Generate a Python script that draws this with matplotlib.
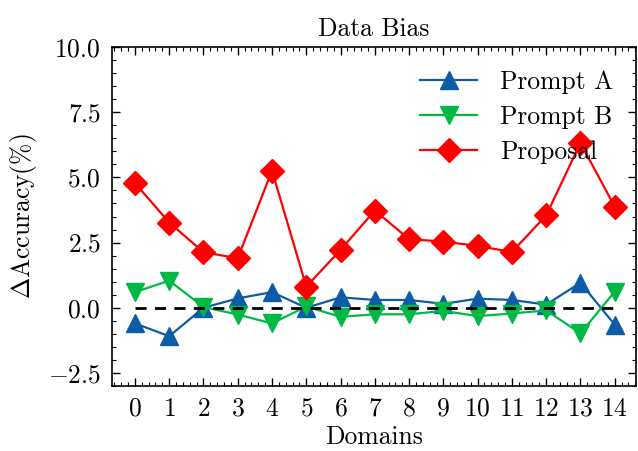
import numpy as np
import matplotlib
matplotlib.use('Agg')
import matplotlib.pyplot as plt
from matplotlib.ticker import AutoMinorLocator

# Data
domains = np.arange(15)
prompt_a = [-0.6, -1.09, 0.0, 0.36, 0.6, 0.0, 0.4, 0.3, 0.3, 0.15, 0.35, 0.3, 0.12, 0.96, -0.65]
prompt_b = [0.6, 1.04, 0.03, -0.26, -0.6, 0.05, -0.35, -0.25, -0.25, -0.12, -0.32, -0.22, -0.1, -0.98, 0.62]
proposal = [4.78, 3.27, 2.13, 1.90, 5.26, 0.81, 2.22, 3.73, 2.63, 2.54, 2.37, 2.14, 3.54, 6.32, 3.88]

plt.rcParams['font.family'] = 'cmr10'
plt.rcParams['mathtext.fontset'] = 'cm'
plt.rcParams['axes.formatter.use_mathtext'] = True
plt.rcParams['axes.unicode_minus'] = True
plt.rcParams['font.size'] = 18.4

fig = plt.figure(figsize=(6.38, 4.51), dpi=100)
ax = fig.add_axes([0.1755, 0.1441, 0.8213, 0.7517])

ax.plot(domains, prompt_a, color='#0C5DA5', marker='^', markersize=13, lw=1.6, label='Prompt A')
ax.plot(domains, prompt_b, color='#00B945', marker='v', markersize=13, lw=1.6, label='Prompt B')
ax.plot(domains, proposal, color='#FF0000', marker='D', markersize=12, lw=1.6, label='Proposal')
ax.plot(domains, np.zeros(len(domains)), color='black', ls='--', lw=2, dashes=(4, 3))

ax.set_xlim(-0.67, 14.62)
ax.set_ylim(-3, 10)
ax.set_xticks(domains)
ax.set_yticks([-2.5, 0, 2.5, 5, 7.5, 10])
ax.set_yticklabels(['$-2.5$', '$0.0$', '$2.5$', '$5.0$', '$7.5$', '$10.0$'])
ax.set_xticklabels([f'${d}$' for d in domains])
ax.xaxis.set_minor_locator(AutoMinorLocator(5))
ax.yaxis.set_minor_locator(AutoMinorLocator(5))
ax.tick_params(which='both', direction='in', top=True, right=True, labelsize=18.4)
ax.tick_params(which='major', length=6, width=1, pad=8)
ax.tick_params(which='minor', length=3, width=0.8)
for s in ax.spines.values():
    s.set_linewidth(1.2)

ax.set_title('Data Bias', fontsize=18.4, pad=8)
ax.set_xlabel('Domains', fontsize=18.4, labelpad=3)
ax.set_ylabel(r'$\Delta$Accuracy(%)', fontsize=18.4, labelpad=6)
ax.legend(loc='upper right', frameon=False, fontsize=18.4, handlelength=2.2,
          handletextpad=0.9, labelspacing=0.45)

fig.savefig('out.png', dpi=100)
